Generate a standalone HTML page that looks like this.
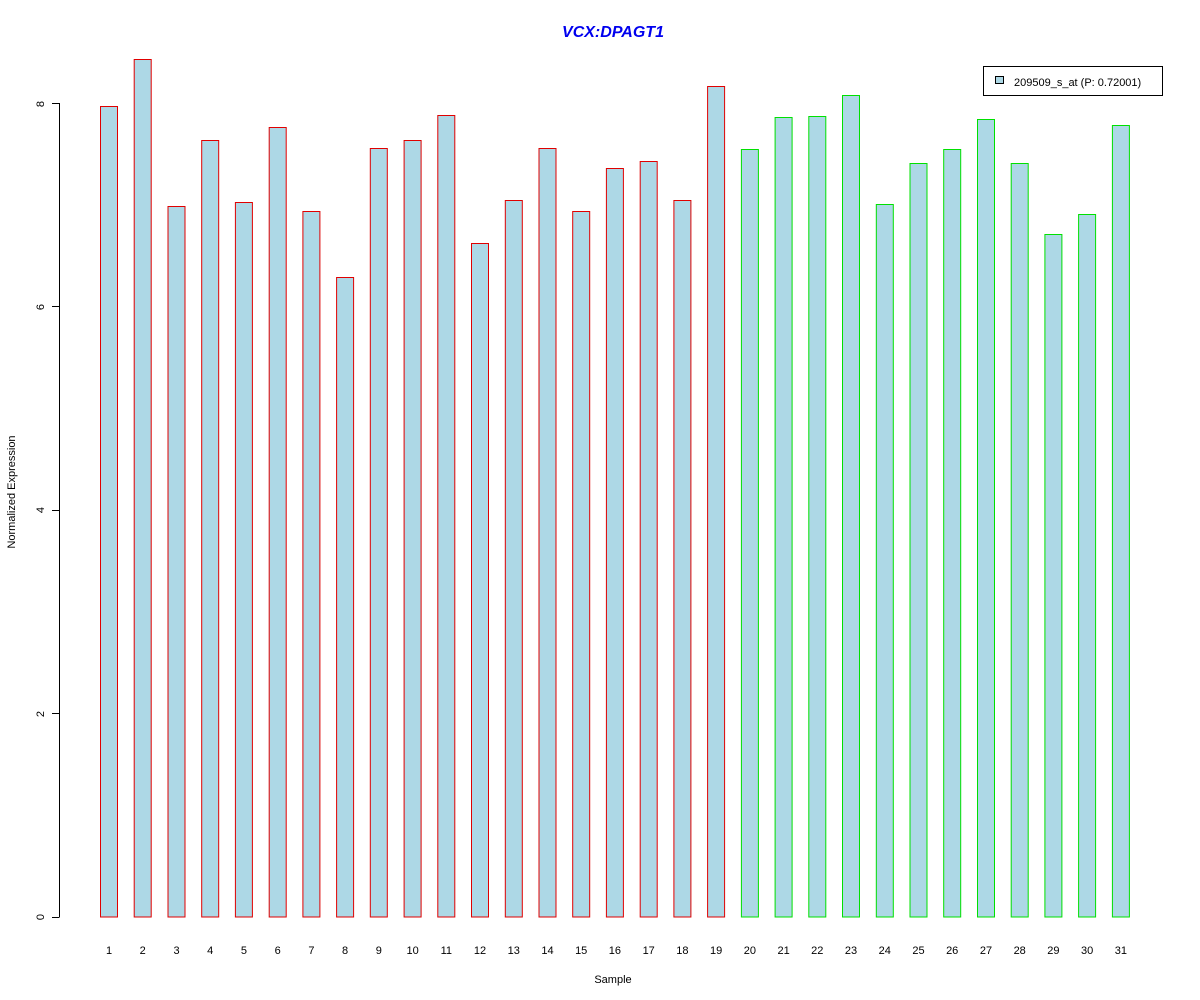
<!DOCTYPE html>
<html><head><meta charset="utf-8"><style>body{margin:0;background:#fff}svg{display:block}</style></head>
<body>
<svg width="1200" height="1000" xmlns="http://www.w3.org/2000/svg" font-family="Liberation Sans, sans-serif">
<rect width="1200" height="1000" fill="#fff"/>
<text x="613" y="37" text-anchor="middle" font-size="16" font-weight="bold" font-style="italic" fill="#0000ee">VCX:DPAGT1</text>
<g stroke="#000" stroke-width="1" fill="none">
<line x1="59.5" y1="103" x2="59.5" y2="917"/>
<line x1="52" y1="917.5" x2="59.5" y2="917.5"/>
<line x1="52" y1="713.5" x2="59.5" y2="713.5"/>
<line x1="52" y1="510.5" x2="59.5" y2="510.5"/>
<line x1="52" y1="306.5" x2="59.5" y2="306.5"/>
<line x1="52" y1="103.5" x2="59.5" y2="103.5"/>
</g>
<g font-size="11" fill="#000" text-anchor="middle">
<text transform="translate(44,917) rotate(-90)">0</text>
<text transform="translate(44,714) rotate(-90)">2</text>
<text transform="translate(44,510) rotate(-90)">4</text>
<text transform="translate(44,307) rotate(-90)">6</text>
<text transform="translate(44,104) rotate(-90)">8</text>
<text transform="translate(15,492) rotate(-90)">Normalized Expression</text>
<text x="613" y="983">Sample</text>
</g>
<g fill="#add8e6" stroke-width="1">
<rect x="100.5" y="106.5" width="17" height="810.5" stroke="#e00000"/>
<rect x="134.2" y="59.5" width="17" height="857.5" stroke="#e00000"/>
<rect x="168" y="206.5" width="17" height="710.5" stroke="#e00000"/>
<rect x="201.7" y="140.5" width="17" height="776.5" stroke="#e00000"/>
<rect x="235.4" y="202.5" width="17" height="714.5" stroke="#e00000"/>
<rect x="269.2" y="127.5" width="17" height="789.5" stroke="#e00000"/>
<rect x="302.9" y="211.5" width="17" height="705.5" stroke="#e00000"/>
<rect x="336.6" y="277.5" width="17" height="639.5" stroke="#e00000"/>
<rect x="370.3" y="148.5" width="17" height="768.5" stroke="#e00000"/>
<rect x="404.1" y="140.5" width="17" height="776.5" stroke="#e00000"/>
<rect x="437.8" y="115.5" width="17" height="801.5" stroke="#e00000"/>
<rect x="471.5" y="243.5" width="17" height="673.5" stroke="#e00000"/>
<rect x="505.3" y="200.5" width="17" height="716.5" stroke="#e00000"/>
<rect x="539" y="148.5" width="17" height="768.5" stroke="#e00000"/>
<rect x="572.7" y="211.5" width="17" height="705.5" stroke="#e00000"/>
<rect x="606.4" y="168.5" width="17" height="748.5" stroke="#e00000"/>
<rect x="640.2" y="161.5" width="17" height="755.5" stroke="#e00000"/>
<rect x="673.9" y="200.5" width="17" height="716.5" stroke="#e00000"/>
<rect x="707.6" y="86.5" width="17" height="830.5" stroke="#e00000"/>
<rect x="741.4" y="149.5" width="17" height="767.5" stroke="#00e000"/>
<rect x="775.1" y="117.5" width="17" height="799.5" stroke="#00e000"/>
<rect x="808.8" y="116.5" width="17" height="800.5" stroke="#00e000"/>
<rect x="842.5" y="95.5" width="17" height="821.5" stroke="#00e000"/>
<rect x="876.3" y="204.5" width="17" height="712.5" stroke="#00e000"/>
<rect x="910" y="163.5" width="17" height="753.5" stroke="#00e000"/>
<rect x="943.7" y="149.5" width="17" height="767.5" stroke="#00e000"/>
<rect x="977.5" y="119.5" width="17" height="797.5" stroke="#00e000"/>
<rect x="1011.2" y="163.5" width="17" height="753.5" stroke="#00e000"/>
<rect x="1044.9" y="234.5" width="17" height="682.5" stroke="#00e000"/>
<rect x="1078.6" y="214.5" width="17" height="702.5" stroke="#00e000"/>
<rect x="1112.4" y="125.5" width="17" height="791.5" stroke="#00e000"/>
</g>
<g font-size="11" fill="#000" text-anchor="middle">
<text x="109" y="954">1</text><text x="142.7" y="954">2</text><text x="176.5" y="954">3</text><text x="210.2" y="954">4</text><text x="243.9" y="954">5</text><text x="277.7" y="954">6</text><text x="311.4" y="954">7</text><text x="345.1" y="954">8</text><text x="378.8" y="954">9</text><text x="412.6" y="954">10</text><text x="446.3" y="954">11</text><text x="480" y="954">12</text><text x="513.8" y="954">13</text><text x="547.5" y="954">14</text><text x="581.2" y="954">15</text><text x="614.9" y="954">16</text><text x="648.7" y="954">17</text><text x="682.4" y="954">18</text><text x="716.1" y="954">19</text><text x="749.9" y="954">20</text><text x="783.6" y="954">21</text><text x="817.3" y="954">22</text><text x="851" y="954">23</text><text x="884.8" y="954">24</text><text x="918.5" y="954">25</text><text x="952.2" y="954">26</text><text x="986" y="954">27</text><text x="1019.7" y="954">28</text><text x="1053.4" y="954">29</text><text x="1087.1" y="954">30</text><text x="1120.9" y="954">31</text>
</g>
<rect x="983.5" y="66.5" width="179" height="29" fill="#fff" stroke="#000"/>
<rect x="995.5" y="76.5" width="8" height="7" fill="#add8e6" stroke="#000"/>
<text x="1014" y="86" font-size="11" fill="#000">209509_s_at (P: 0.72001)</text>
</svg>
</body></html>
